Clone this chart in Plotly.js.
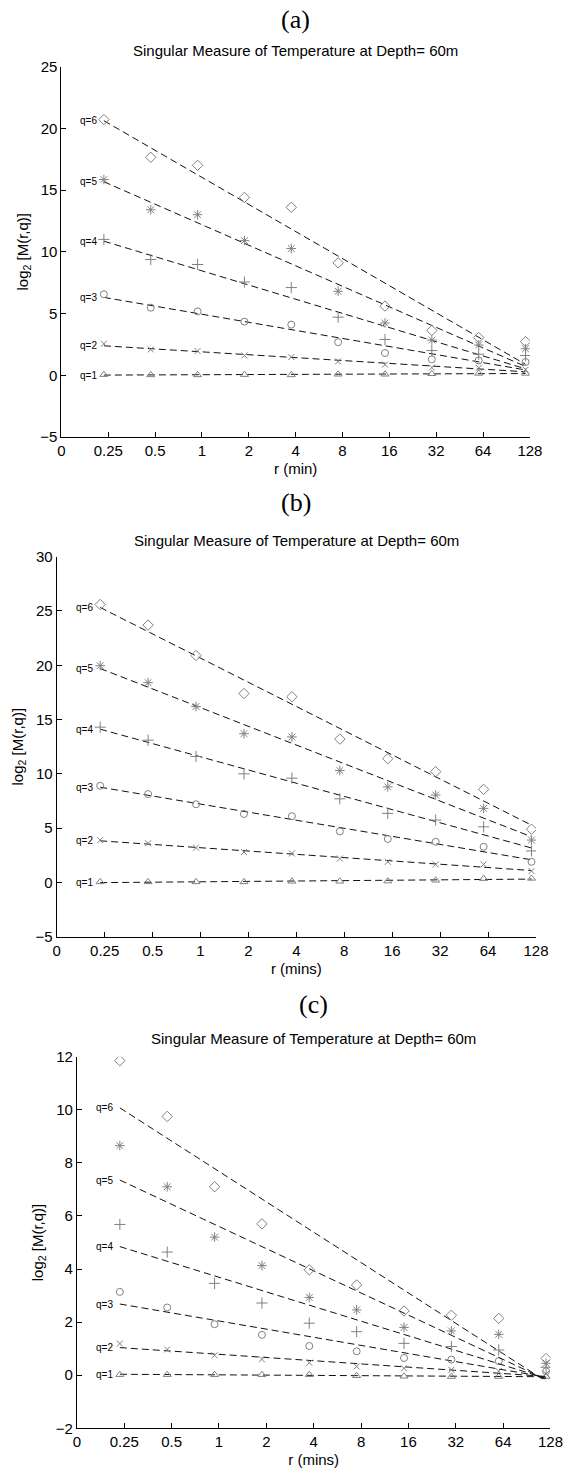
<!DOCTYPE html>
<html>
<head>
<meta charset="utf-8">
<script src="https://cdn.plot.ly/plotly-3.0.1.min.js"></script>
<style>html,body{margin:0;padding:0;background:#fff;}#chart{width:566px;height:1470px;}</style>
</head>
<body>
<div id="chart"></div>
<script>
// ---- data ----
const r = [0.234375, 0.46875, 0.9375, 1.875, 3.75, 7.5, 15, 30, 60, 120];
const xTickVals = [0.125, 0.25, 0.5, 1, 2, 4, 8, 16, 32, 64, 128];
const xTickText = ['0', '0.25', '0.5', '1', '2', '4', '8', '16', '32', '64', '128'];
const qNames = ['q=1', 'q=2', 'q=3', 'q=4', 'q=5', 'q=6'];
const panelLetters = ['(a)', '(b)', '(c)'];
const panelTitle = 'Singular Measure of Temperature at Depth= 60m';
const xTitles = ['r (min)', 'r (mins)', 'r (mins)'];

// panel (a)
const a_q1 = [0.05, 0.03, 0.03, 0.05, 0.03, 0.08, 0.08, 0.12, 0.15, 0.15];
const a_q2 = [2.55, 2.09, 1.96, 1.6, 1.47, 1.12, 0.86, 0.62, 0.6, 0.45];
const a_q3 = [6.56, 5.47, 5.17, 4.34, 4.1, 2.68, 1.8, 1.29, 1.2, 1.07];
const a_q4 = [11.0, 9.37, 8.97, 7.55, 7.1, 4.7, 2.9, 2.0, 1.7, 1.6];
const a_q5 = [15.85, 13.4, 13.0, 10.9, 10.26, 6.8, 4.23, 2.85, 2.45, 2.14];
const a_q6 = [20.7, 17.65, 17.0, 14.4, 13.6, 9.1, 5.6, 3.63, 3.05, 2.73];
// panel (b)
const b_q1 = [0.05, 0.05, 0.05, 0.05, 0.1, 0.1, 0.12, 0.2, 0.35, 0.37];
const b_q2 = [3.9, 3.6, 3.2, 2.8, 2.67, 2.2, 1.9, 1.66, 1.66, 1.04];
const b_q3 = [8.9, 8.14, 7.2, 6.3, 6.1, 4.7, 4.0, 3.74, 3.28, 1.9];
const b_q4 = [14.3, 13.1, 11.6, 10.0, 9.6, 7.7, 6.36, 5.74, 5.12, 2.9];
const b_q5 = [19.96, 18.4, 16.2, 13.7, 13.4, 10.3, 8.8, 8.05, 6.82, 3.9];
const b_q6 = [25.6, 23.7, 20.9, 17.4, 17.1, 13.2, 11.4, 10.2, 8.57, 4.9];
// panel (c)
const c_q1 = [0.02, 0.02, 0.02, 0.02, 0.02, -0.02, -0.04, -0.05, -0.05, -0.05];
const c_q2 = [1.19, 0.97, 0.75, 0.6, 0.47, 0.33, 0.26, 0.2, 0.15, 0.05];
const c_q3 = [3.14, 2.55, 1.92, 1.52, 1.1, 0.9, 0.65, 0.59, 0.53, 0.15];
const c_q4 = [5.68, 4.64, 3.46, 2.72, 1.96, 1.64, 1.2, 1.08, 0.95, 0.3];
const c_q5 = [8.65, 7.1, 5.2, 4.13, 2.93, 2.46, 1.8, 1.67, 1.54, 0.45];
const c_q6 = [11.85, 9.75, 7.1, 5.7, 3.97, 3.4, 2.42, 2.26, 2.14, 0.63];

const yRanges = [[-5, 25], [-5, 30], [-2, 12]];
const yDtick = [5, 5, 2];

// ---- styling ----
const FONT = 'Liberation Sans, Arial, Helvetica, sans-serif';
const SERIF = 'Liberation Serif, Times New Roman, serif';
const symbols = ['triangle-up-open', 'x-thin-open', 'circle-open', 'cross-thin-open', 'asterisk-open', 'diamond-open'];
const markerSizes = [7, 6, 7, 8, 8, 8];
const markerColor = '#808080';

const panels = [
  {series: [a_q1, a_q2, a_q3, a_q4, a_q5, a_q6], xd: [0.10848, 0.93622], yd: [0.70272, 0.95476], ts: 6, ls: 31},
  {series: [b_q1, b_q2, b_q3, b_q4, b_q5, b_q6], xd: [0.10018, 0.94700], yd: [0.36279, 0.62129], ts: 6, ls: 38},
  {series: [c_q1, c_q2, c_q3, c_q4, c_q5, c_q6], xd: [0.13587, 0.97261], yd: [0.02837, 0.28116], ts: 8, ls: 36}
];

// least-squares line of log2 M vs log2 r
function fitLine(xs, ys) {
  const lx = xs.map(v => Math.log2(v));
  const n = lx.length;
  const mx = lx.reduce((s, v) => s + v, 0) / n;
  const my = ys.reduce((s, v) => s + v, 0) / n;
  let sxy = 0, sxx = 0;
  for (let i = 0; i < n; i++) { sxy += (lx[i] - mx) * (ys[i] - my); sxx += (lx[i] - mx) ** 2; }
  const b = sxy / sxx, a = my - b * mx;
  return [a + b * lx[0], a + b * lx[n - 1]];
}

const traces = [];
const annotations = [];
const layout = {
  width: 566, height: 1470,
  margin: {l: 0, r: 0, t: 0, b: 0},
  paper_bgcolor: '#fff', plot_bgcolor: '#fff',
  showlegend: false,
  font: {family: FONT, size: 15, color: '#000'},
  annotations: annotations
};

panels.forEach((p, pi) => {
  const sfx = pi === 0 ? '' : String(pi + 1);
  const xa = 'x' + sfx, ya = 'y' + sfx;
  p.series.forEach((ys, qi) => {
    const fl = fitLine(r, ys);
    traces.push({
      x: [r[0], r[r.length - 1]], y: fl, xaxis: xa, yaxis: ya,
      mode: 'lines', line: {color: '#111', width: 1, dash: '7px,4px'}, hoverinfo: 'skip'
    });
    traces.push({
      x: r, y: ys, xaxis: xa, yaxis: ya, mode: 'markers', name: qNames[qi],
      marker: {symbol: symbols[qi], size: markerSizes[qi], color: markerColor, line: {width: 1, color: markerColor}}
    });
    annotations.push({
      xref: xa, yref: ya, x: Math.log10(r[0]), y: fl[0], text: qNames[qi],
      showarrow: false, xanchor: 'right', yanchor: 'middle', xshift: -5,
      font: {family: FONT, size: 10, color: '#000'}
    });
  });
  const xc = (p.xd[0] + p.xd[1]) / 2;
  // subplot title
  annotations.push({
    xref: 'paper', yref: 'paper', x: xc, y: p.yd[1], yanchor: 'bottom', yshift: p.ts,
    text: panelTitle, showarrow: false, font: {family: FONT, size: 15, color: '#000'}
  });
  // panel letter
  annotations.push({
    xref: 'paper', yref: 'paper', x: xc, y: p.yd[1], yanchor: 'bottom', yshift: p.ls,
    text: panelLetters[pi], showarrow: false, font: {family: SERIF, size: 26, color: '#000'}
  });
  layout['xaxis' + sfx] = {
    domain: p.xd, anchor: ya, type: 'log',
    range: [Math.log10(xTickVals[0]), Math.log10(xTickVals[xTickVals.length - 1])],
    tickmode: 'array', tickvals: xTickVals, ticktext: xTickText,
    ticks: 'inside', ticklen: 5, tickcolor: '#000', showline: true, linecolor: '#000', linewidth: 1,
    showgrid: false, zeroline: false, tickfont: {family: FONT, size: 15, color: '#000'},
    title: {text: xTitles[pi], font: {family: FONT, size: 15, color: '#000'}, standoff: 5}
  };
  layout['yaxis' + sfx] = {
    domain: p.yd, anchor: xa, range: yRanges[pi], dtick: yDtick[pi], tick0: 0,
    ticks: 'inside', ticklen: 5, tickcolor: '#000', showline: true, linecolor: '#000', linewidth: 1,
    showgrid: false, zeroline: false, tickfont: {family: FONT, size: 15, color: '#000'},
    title: {text: 'log<sub>2</sub> [M(r,q)]', font: {family: FONT, size: 15, color: '#000'}, standoff: 8}
  };
});

Plotly.newPlot('chart', traces, layout, {staticPlot: true, displayModeBar: false});
</script>
</body>
</html>
